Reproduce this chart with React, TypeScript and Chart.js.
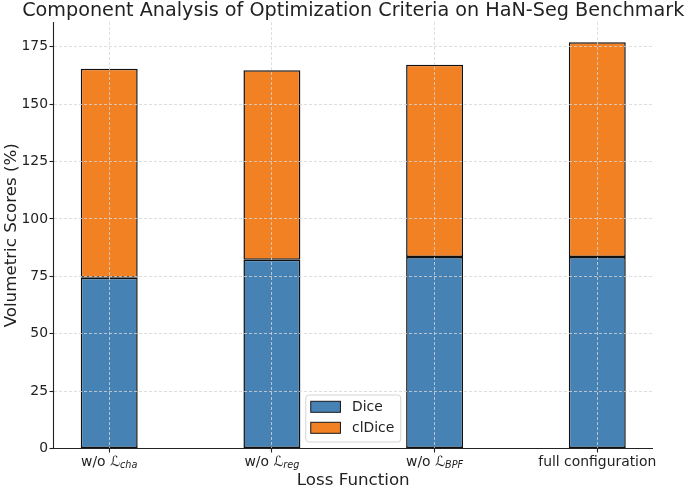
import { useEffect, useRef } from 'react';
import { Chart, registerables } from 'chart.js';

Chart.register(...registerables);

// ---- data ----
const chartTitle = 'Component Analysis of Optimization Criteria on HaN-Seg Benchmark';
const categories = ['w/o ℒ_{cha}', 'w/o ℒ_{reg}', 'w/o ℒ_{BPF}', 'full configuration'];
const seriesNames = ['Dice', 'clDice'];
const diceValues = [74.4, 82.2, 83.4, 83.4];
const clDiceValues = [91.0, 82.6, 83.8, 93.6];
const yTicks = [0, 25, 50, 75, 100, 125, 150, 175];

const FONT = '"DejaVu Sans", "Liberation Sans", sans-serif';
const TEXT = '#222222';
const BLUE = '#4682B4';
const ORANGE = '#F28124';

const parseLabel = (s: string) => {
  const m = s.match(/^(.*?)ℒ_\{(.*)\}$/);
  if (!m) return { main: s, sym: '', sub: '' };
  return { main: m[1], sym: 'ℒ', sub: m[2] };
};

const titlePlugin = {
  id: 'axesTitle',
  afterDraw(chart: any) {
    const { ctx, chartArea } = chart;
    ctx.save();
    ctx.fillStyle = TEXT;
    ctx.font = `19.2px ${FONT}`;
    ctx.textAlign = 'center';
    ctx.textBaseline = 'middle';
    ctx.fillText(chartTitle, (chartArea.left + chartArea.right) / 2, 11);
    ctx.restore();
  },
};

const spinePlugin = {
  id: 'spines',
  afterDraw(chart: any) {
    const { ctx, chartArea } = chart;
    ctx.save();
    ctx.strokeStyle = TEXT;
    ctx.lineWidth = 1.1;
    ctx.setLineDash([]);
    ctx.beginPath();
    ctx.moveTo(chartArea.left, chartArea.top);
    ctx.lineTo(chartArea.left, chartArea.bottom);
    ctx.lineTo(chartArea.right, chartArea.bottom);
    ctx.stroke();
    ctx.restore();
  },
};

const xLabelPlugin = {
  id: 'xMathLabels',
  afterDraw(chart: any) {
    const { ctx } = chart;
    const xs = chart.scales.x;
    const baseY = xs.top + 17.5;
    ctx.save();
    ctx.fillStyle = TEXT;
    ctx.textBaseline = 'alphabetic';
    ctx.textAlign = 'left';
    categories.forEach((lab, i) => {
      const p = parseLabel(lab);
      const segs: { t: string; f: string; dy: number }[] = [];
      segs.push({ t: p.main, f: `13.9px ${FONT}`, dy: 0 });
      if (p.sym) {
        segs.push({ t: p.sym, f: `italic 13.9px ${FONT}`, dy: 0 });
        segs.push({ t: p.sub, f: `italic 9.7px ${FONT}`, dy: 2 });
      }
      let total = 0;
      const widths = segs.map((s) => {
        ctx.font = s.f;
        const w = ctx.measureText(s.t).width;
        total += w;
        return w;
      });
      let x = xs.getPixelForValue(i) - total / 2;
      segs.forEach((s, k) => {
        ctx.font = s.f;
        ctx.fillText(s.t, x, baseY + s.dy);
        x += widths[k];
      });
    });
    ctx.restore();
  },
};

const legendPlugin = {
  id: 'innerLegend',
  afterDraw(chart: any) {
    const { ctx, chartArea } = chart;
    const w = 95;
    const h = 47;
    const cx = (chartArea.left + chartArea.right) / 2;
    const x0 = cx - w / 2;
    const y0 = chartArea.bottom - 6.5 - h;
    ctx.save();
    ctx.beginPath();
    if (ctx.roundRect) ctx.roundRect(x0, y0, w, h, 3);
    else ctx.rect(x0, y0, w, h);
    ctx.fillStyle = 'rgba(255,255,255,0.85)';
    ctx.fill();
    ctx.strokeStyle = '#d4d4d4';
    ctx.lineWidth = 1;
    ctx.stroke();
    chart.data.datasets.forEach((ds: any, i: number) => {
      const sy = y0 + 6.3 + i * 21;
      ctx.fillStyle = ds.backgroundColor;
      ctx.fillRect(x0 + 5, sy, 29.7, 11);
      ctx.strokeStyle = '#1a1a1a';
      ctx.lineWidth = 1;
      ctx.strokeRect(x0 + 5, sy, 29.7, 11);
      ctx.fillStyle = TEXT;
      ctx.font = `13.9px ${FONT}`;
      ctx.textBaseline = 'middle';
      ctx.textAlign = 'left';
      ctx.fillText(ds.label, x0 + 46.3, sy + 6);
    });
    ctx.restore();
  },
};

export default function App() {
  const ref = useRef<HTMLCanvasElement | null>(null);

  useEffect(() => {
    document.body.style.margin = '0';
    const canvas = ref.current;
    if (!canvas) return;
    const chart = new Chart(canvas, {
      type: 'bar',
      data: {
        datasets: [
          {
            label: seriesNames[0],
            data: categories.map((_, i) => ({ x: i, y: diceValues[i] })),
            backgroundColor: BLUE,
            borderColor: '#111111',
            borderWidth: 1.5,
            borderSkipped: false,
            barPercentage: 0.35,
            categoryPercentage: 1,
          },
          {
            label: seriesNames[1],
            data: categories.map((_, i) => ({ x: i, y: clDiceValues[i] })),
            backgroundColor: ORANGE,
            borderColor: '#111111',
            borderWidth: 1.5,
            borderSkipped: false,
            barPercentage: 0.35,
            categoryPercentage: 1,
          },
        ],
      },
      options: {
        animation: false,
        responsive: true,
        maintainAspectRatio: false,
        events: [],
        layout: { padding: { left: 0, right: 32, top: 22, bottom: 0 } },
        plugins: {
          legend: { display: false },
          tooltip: { enabled: false },
          title: { display: false },
        },
        scales: {
          x: {
            type: 'linear',
            stacked: true,
            offset: false,
            min: -0.3425,
            max: 3.3425,
            afterBuildTicks: (scale: any) => {
              scale.ticks = categories.map((_, i) => ({ value: i }));
            },
            afterFit: (scale: any) => {
              scale.height = 40.5;
            },
            ticks: { display: false },
            grid: {
              offset: false,
              color: '#d6d6d6',
              lineWidth: 0.8,
              tickLength: 4,
              tickColor: TEXT,
              tickWidth: 1.1,
              z: 1,
            },
            border: { display: false, dash: [3, 2] },
            title: {
              display: true,
              text: 'Loss Function',
              color: TEXT,
              font: { family: FONT, size: 16.7, lineHeight: 1 },
              padding: { top: 0, bottom: 0 },
            },
          },
          y: {
            type: 'linear',
            stacked: true,
            min: 0,
            max: 185.8,
            afterBuildTicks: (scale: any) => {
              scale.ticks = yTicks.map((v) => ({ value: v }));
            },
            afterFit: (scale: any) => {
              scale.width = 53.5;
            },
            ticks: {
              color: TEXT,
              font: { family: FONT, size: 13.9 },
              padding: 1.5,
            },
            grid: {
              color: '#d6d6d6',
              lineWidth: 0.8,
              tickLength: 4,
              tickColor: TEXT,
              tickWidth: 1.1,
              z: 1,
            },
            border: { display: false, dash: [3, 2] },
            title: {
              display: true,
              text: 'Volumetric Scores (%)',
              color: TEXT,
              font: { family: FONT, size: 16.7, lineHeight: 1 },
              padding: { top: 3.6, bottom: 0 },
            },
          },
        },
      },
      plugins: [titlePlugin, spinePlugin, xLabelPlugin, legendPlugin],
    } as any);
    return () => chart.destroy();
  }, []);

  return (
    <div style={{ width: 685, height: 489, position: 'relative' }}>
      <canvas ref={ref} />
    </div>
  );
}
